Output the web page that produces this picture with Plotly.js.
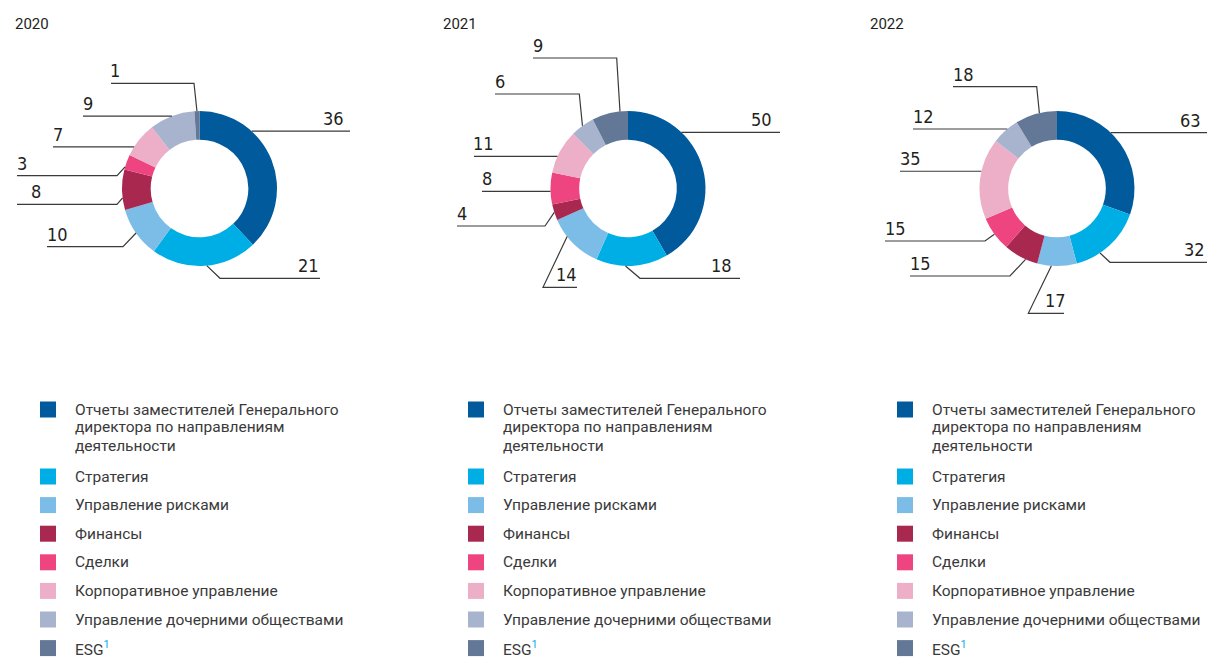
<!DOCTYPE html>
<html>
<head>
<meta charset="utf-8">
<script src="https://cdn.plot.ly/plotly-3.0.1.min.js"></script>
<style>html,body{margin:0;padding:0;background:#fff;}#chart{width:1207px;height:659px;}</style>
</head>
<body>
<div id="chart"></div>
<script>
// ---- data ----
const years = ['2020', '2021', '2022'];
const categories = [
  'Отчеты заместителей Генерального<br>директора по направлениям<br>деятельности',
  'Стратегия',
  'Управление рисками',
  'Финансы',
  'Сделки',
  'Корпоративное управление',
  'Управление дочерними обществами',
  'ESG<sup><span style="color:#00aee6">1</span></sup>'
];
const colors = ['#005a9c', '#00aee6', '#7bbde6', '#a82850', '#ee4580', '#edafc8', '#a8b3ce', '#637797'];
const values2020 = [36, 21, 10, 8, 3, 7, 9, 1];
const values2021 = [50, 18, 14, 4, 8, 11, 6, 9];
const values2022 = [63, 32, 17, 15, 15, 35, 12, 18];
const seriesValues = [values2020, values2021, values2022];

// ---- layout parameters (pixels) ----
const W = 1207, H = 659;
const centersX = [199.5, 628, 1057];
const centerY = 188.5;
const R = 77.5;
const HOLE = 0.63;
const PX = x => x / W;
const PY = y => 1 - y / H;

// label placement: f = position within slice (0..1), h = horizontal straight from ring,
// ly = label line y, ex = elbow x, end = far end of line, tx = text x, ta = text anchor
const labelLayout = [
  [
    {f: 0.31, h: true, end: 350, tx: 346, ta: 'right'},
    {f: 0.48, ly: 278.3, ex: 220, end: 320, tx: 321, ta: 'right'},
    {f: 0.5, ly: 246.7, ex: 123, end: 47, tx: 45, ta: 'left'},
    {f: 0.3, ly: 204.3, ex: 117, end: 17, tx: 29, ta: 'left'},
    {f: 0.18, ly: 175.7, ex: 117, end: 17, tx: 15, ta: 'left'},
    {f: 0.26, h: true, end: 53, tx: 51, ta: 'left'},
    {f: 0.5, h: true, end: 83, tx: 81, ta: 'left'},
    {f: 0.5, ly: 83.3, ex: 194, end: 111, tx: 108, ta: 'left'}
  ],
  [
    {f: 0.29, h: true, end: 780, tx: 774, ta: 'right'},
    {f: 0.59, ly: 278.3, ex: 640, end: 740, tx: 734, ta: 'right'},
    {f: 0.66, ly: 287.3, ex: 543, end: 577, tx: 554, ta: 'left'},
    {f: 0.5, ly: 226, ex: 545, end: 457, tx: 455, ta: 'left'},
    {f: 0.41, h: true, end: 482, tx: 480, ta: 'left'},
    {f: 0.38, h: true, end: 474, tx: 471, ta: 'left'},
    {f: 0.5, ly: 94, ex: 579.3, end: 495, tx: 493, ta: 'left'},
    {f: 0.78, ly: 58, ex: 616.7, end: 533, tx: 531, ta: 'left'}
  ],
  [
    {f: 0.40, h: true, end: 1207, tx: 1203, ta: 'right'},
    {f: 0.66, ly: 262.3, ex: 1110, end: 1207, tx: 1207, ta: 'right'},
    {f: 0.64, ly: 313.3, ex: 1028.3, end: 1064, tx: 1043, ta: 'left'},
    {f: 0.35, ly: 276, ex: 1010, end: 910, tx: 908, ta: 'left'},
    {f: 0.5, ly: 241, ex: 985, end: 885, tx: 883, ta: 'left'},
    {f: 0.59, h: true, end: 900, tx: 898, ta: 'left'},
    {f: 0.59, h: true, end: 913, tx: 911, ta: 'left'},
    {f: 0.58, ly: 86.7, ex: 1036.7, end: 953, tx: 951, ta: 'left'}
  ]
];

const legendX = [40, 468, 897];
const titleX = [13, 441, 868];

const traces = [];
const shapes = [];
const annotations = [];
const numFont = {family: 'DejaVu Sans Condensed, Liberation Sans Narrow, Roboto, sans-serif', size: 18, color: '#231f20'};
const txtFont = {family: 'Roboto, Liberation Sans, sans-serif', size: 15.5, color: '#3a3a3a'};

years.forEach((yr, i) => {
  const vals = seriesValues[i];
  const cx = centersX[i];
  traces.push({
    type: 'pie',
    values: vals,
    labels: categories,
    marker: {colors: colors, line: {width: 0}},
    hole: HOLE,
    sort: false,
    direction: 'clockwise',
    rotation: 0,
    textinfo: 'none',
    hoverinfo: 'label+value',
    showlegend: false,
    domain: {x: [PX(cx - R), PX(cx + R)], y: [PY(centerY + R), PY(centerY - R)]}
  });

  // year title
  annotations.push({text: yr, xref: 'paper', yref: 'paper', x: PX(titleX[i]), y: PY(24),
    xanchor: 'left', yanchor: 'middle', showarrow: false, font: {family: txtFont.family, size: 15, color: '#231f20'}});

  // leader lines and value labels
  const total = vals.reduce((a, b) => a + b, 0);
  let cum = 0;
  vals.forEach((v, k) => {
    const cfg = labelLayout[i][k];
    const a0 = cum / total * 2 * Math.PI;
    const a1 = (cum + v) / total * 2 * Math.PI;
    cum += v;
    const ang = a0 + (a1 - a0) * cfg.f;
    const axp = cx + R * Math.sin(ang);
    const ayp = centerY - R * Math.cos(ang);
    let ly, ex;
    if (cfg.h) { ly = ayp; ex = axp; } else { ly = cfg.ly; ex = cfg.ex; }
    shapes.push({
      type: 'path', xref: 'paper', yref: 'paper', layer: 'above',
      path: `M ${PX(axp)} ${PY(ayp)} L ${PX(ex)} ${PY(ly)} L ${PX(cfg.end)} ${PY(ly)}`,
      line: {color: '#3a3a3a', width: 1.2}
    });
    annotations.push({text: String(v), xref: 'paper', yref: 'paper', x: PX(cfg.tx), y: PY(ly - 12.5),
      xanchor: cfg.ta, yanchor: 'middle', showarrow: false, font: numFont});
  });

  // legend (drawn manually)
  let y = 409.5;
  categories.forEach((c, k) => {
    shapes.push({type: 'rect', xref: 'paper', yref: 'paper', x0: PX(legendX[i]), x1: PX(legendX[i] + 16),
      y0: PY(y + 8), y1: PY(y - 8), fillcolor: colors[k], line: {width: 0}});
    const lines = c.split('<br>');
    lines.forEach((ln, j) => {
      annotations.push({text: ln, xref: 'paper', yref: 'paper', x: PX(legendX[i] + 33), y: PY(y + j * 18),
        xanchor: 'left', yanchor: 'middle', showarrow: false, font: txtFont});
    });
    y += lines.length > 1 ? (lines.length - 1) * 18 + 31 : 28.6;
  });
});

const layout = {
  width: W, height: H,
  margin: {l: 0, r: 0, t: 0, b: 0},
  paper_bgcolor: '#ffffff',
  plot_bgcolor: '#ffffff',
  showlegend: false,
  shapes: shapes,
  annotations: annotations
};

Plotly.newPlot('chart', traces, layout, {displayModeBar: false, staticPlot: true});
</script>
</body>
</html>
